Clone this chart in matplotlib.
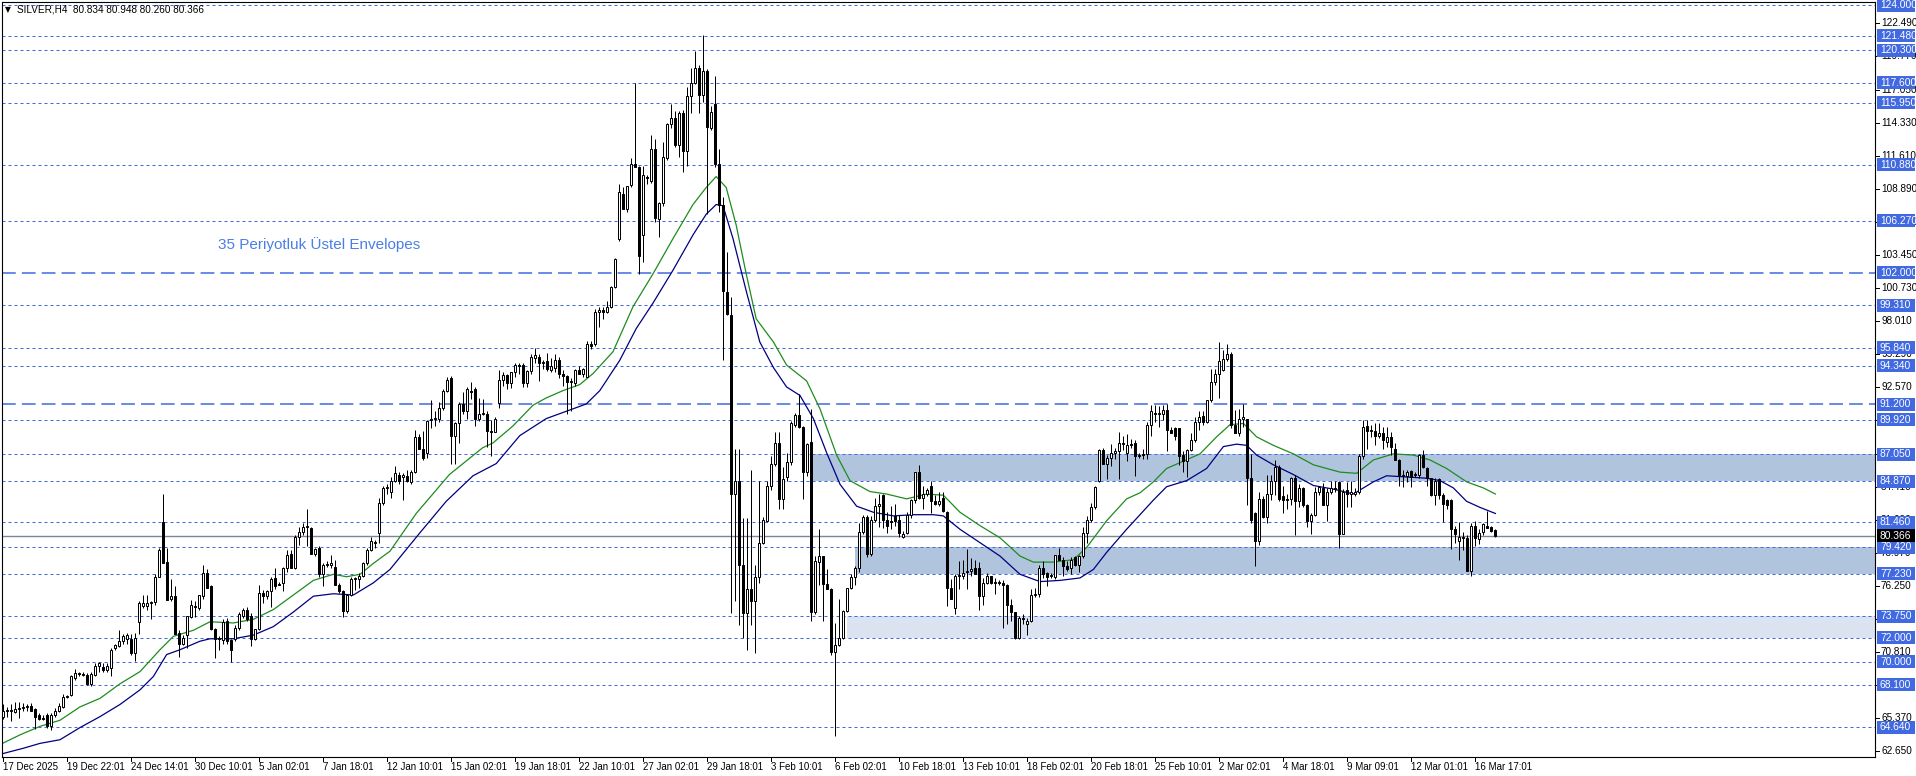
import numpy as np
import matplotlib.pyplot as plt
import matplotlib.transforms as mtransforms
from matplotlib.patches import Rectangle

W, H = 1916, 776

# ---- SILVER H4 candles, left to right (open, high, low, close) ----
opens = [65.5, 66.0, 66.0, 65.9, 66.1, 66.2, 66.3, 66.4, 66.1, 65.6, 65.4, 65.6, 64.7, 65.6, 66.0, 66.3, 67.1, 67.3, 68.7, 69.1,
         69.0, 68.9, 68.2, 68.9, 69.7, 69.6, 69.3, 69.5, 71.1, 71.3, 71.7, 71.9, 71.9, 70.7, 73.3, 74.6, 74.6, 74.8, 74.9, 77.0,
         81.5, 78.2, 75.2, 75.4, 72.4, 71.5, 72.2, 73.7, 74.6, 74.4, 75.4, 77.3, 76.2, 72.7, 71.9, 71.8, 73.4, 71.8, 71.9, 72.8,
         73.8, 74.3, 73.8, 71.9, 72.7, 75.7, 75.4, 75.8, 76.9, 76.4, 76.5, 77.7, 78.9, 77.7, 80.3, 80.7, 81.1, 81.0, 78.9, 79.4,
         77.2, 78.0, 78.0, 77.8, 76.3, 75.8, 74.2, 75.5, 76.8, 76.8, 77.1, 78.1, 79.2, 79.8, 80.6, 83.1, 84.3, 84.0, 84.9, 85.4,
         85.2, 85.3, 84.8, 85.6, 88.5, 87.5, 87.2, 89.9, 90.0, 90.0, 90.9, 92.3, 93.3, 88.6, 89.6, 91.2, 90.6, 92.3, 92.4, 90.0,
         90.4, 90.4, 89.0, 88.9, 91.3, 93.2, 93.6, 92.9, 93.8, 94.4, 94.4, 92.9, 93.9, 95.0, 95.1, 94.6, 94.7, 94.0, 94.2, 94.8,
         93.7, 93.5, 93.0, 92.9, 94.0, 93.7, 93.4, 96.1, 96.1, 98.8, 98.9, 98.8, 99.2, 100.8, 104.8, 108.5, 107.2, 109.2, 110.9, 110.7,
         105.1, 109.9, 109.5, 112.2, 106.4, 107.7, 111.4, 114.2, 114.7, 112.5, 115.1, 112.0, 116.5, 117.6, 118.8, 116.6, 118.6, 113.9, 115.9, 110.9,
         107.6, 100.4, 98.5, 83.8, 84.9, 78.0, 74.0, 76.0, 75.0, 77.0, 79.8, 81.6, 84.5, 86.3, 88.0, 83.4, 85.2, 86.4, 89.5, 90.3,
         89.3, 85.6, 88.1, 74.1, 78.2, 78.7, 76.4, 76.0, 70.8, 71.4, 72.0, 74.2, 76.1, 77.0, 77.7, 80.7, 81.9, 78.9, 81.7, 82.8,
         83.7, 81.7, 81.6, 82.0, 81.7, 80.3, 80.6, 82.1, 83.3, 85.6, 83.5, 83.8, 84.5, 83.2, 83.0, 83.5, 82.3, 76.1, 74.4, 77.1,
         77.1, 77.4, 77.5, 77.7, 77.7, 75.4, 76.5, 77.1, 76.6, 76.6, 76.5, 76.3, 74.7, 74.1, 72.0, 73.6, 73.1, 73.4, 75.5, 75.6,
         77.7, 77.3, 77.1, 77.0, 78.8, 78.4, 77.9, 77.7, 78.6, 78.0, 78.7, 80.6, 81.7, 82.7, 84.9, 87.4, 86.3, 86.8, 87.2, 87.3,
         88.0, 87.2, 87.9, 88.0, 87.0, 87.1, 87.1, 89.5, 90.5, 90.4, 90.4, 90.7, 89.1, 89.2, 89.2, 87.0, 86.5, 87.4, 88.2, 89.7,
         90.2, 89.7, 91.5, 93.0, 93.7, 94.0, 94.9, 95.3, 89.5, 88.8, 90.0, 90.0, 85.1, 82.2, 79.9, 83.4, 81.9, 83.8, 84.9, 86.0,
         83.6, 83.4, 83.4, 85.1, 83.2, 84.3, 82.9, 81.6, 82.1, 84.0, 84.3, 82.9, 84.0, 84.3, 84.8, 80.5, 84.1, 83.8, 83.8, 84.0,
         86.9, 89.4, 89.0, 89.0, 88.6, 88.8, 88.1, 88.5, 87.5, 86.6, 85.4, 85.3, 85.7, 85.4, 85.4, 87.0, 85.9, 85.1, 83.7, 85.0,
         83.7, 83.3, 83.3, 80.9, 79.9, 80.3, 80.2, 77.5, 81.2, 80.1, 80.7, 81.2, 81.1, 80.834]
highs = [66.5, 66.3, 66.5, 66.7, 66.7, 66.6, 66.5, 66.6, 66.2, 65.8, 65.6, 65.8, 65.8, 66.2, 66.6, 67.4, 67.3, 68.9, 69.4, 69.2,
         69.2, 69.1, 69.2, 69.9, 70.0, 69.9, 69.9, 71.1, 71.5, 72.6, 72.3, 72.4, 72.3, 72.4, 75.0, 75.5, 75.5, 75.0, 77.2, 79.4,
         83.8, 79.4, 76.8, 76.2, 72.6, 72.2, 73.8, 75.1, 75.0, 75.5, 78.0, 77.6, 76.3, 72.8, 72.1, 73.5, 73.6, 71.9, 73.0, 74.1,
         74.4, 74.5, 74.0, 72.7, 76.3, 75.9, 75.9, 77.0, 77.7, 76.6, 77.8, 79.2, 79.2, 80.4, 81.1, 81.4, 82.6, 81.1, 79.4, 79.5,
         78.1, 78.3, 78.8, 78.4, 76.5, 75.9, 75.6, 77.0, 77.0, 77.3, 78.2, 79.4, 80.3, 80.0, 83.5, 84.5, 84.6, 85.2, 86.1, 85.6,
         85.5, 85.8, 85.8, 89.1, 88.7, 89.0, 89.9, 91.5, 90.6, 91.4, 92.4, 93.4, 93.5, 89.7, 91.4, 92.2, 92.6, 93.0, 92.6, 91.7,
         91.6, 90.6, 89.9, 90.1, 94.0, 93.8, 93.7, 93.8, 94.6, 94.6, 94.6, 94.0, 95.3, 95.8, 95.3, 94.8, 95.4, 95.0, 95.3, 95.1,
         94.0, 93.6, 93.3, 94.1, 94.3, 94.2, 96.4, 96.4, 99.0, 99.2, 99.2, 99.7, 100.9, 103.2, 109.3, 109.0, 109.1, 111.4, 117.6, 110.8,
         110.8, 110.0, 113.3, 113.0, 107.8, 112.7, 114.3, 115.9, 115.3, 115.3, 115.4, 117.3, 118.8, 120.2, 119.1, 121.5, 118.7, 115.7, 118.2, 112.2,
         108.2, 103.7, 100.0, 87.5, 87.5, 81.8, 81.8, 85.8, 78.0, 84.9, 81.9, 84.9, 86.9, 88.9, 88.9, 86.0, 87.2, 89.8, 90.5, 92.0,
         89.4, 88.0, 90.8, 78.7, 80.9, 78.7, 77.6, 76.1, 73.2, 75.2, 74.3, 76.1, 77.2, 77.9, 81.4, 82.1, 82.1, 82.0, 83.5, 83.8,
         83.8, 82.3, 82.8, 83.0, 82.1, 80.8, 82.3, 83.4, 85.6, 86.2, 84.5, 84.3, 84.9, 83.7, 84.0, 84.0, 82.4, 76.8, 77.2, 78.3,
         78.4, 79.3, 78.5, 78.4, 78.2, 76.9, 77.3, 77.1, 76.9, 76.7, 76.7, 76.4, 75.2, 74.1, 73.8, 73.9, 73.6, 76.0, 76.1, 78.0,
         78.3, 77.4, 77.3, 78.8, 79.4, 78.6, 78.3, 78.6, 78.7, 78.8, 81.1, 82.0, 83.1, 84.5, 87.5, 87.6, 87.0, 87.9, 87.6, 88.9,
         88.6, 88.7, 88.3, 88.2, 87.2, 87.5, 89.7, 91.1, 91.1, 91.0, 91.1, 91.2, 89.3, 89.3, 89.2, 87.3, 87.5, 88.8, 90.1, 90.6,
         90.6, 91.5, 94.1, 94.1, 96.3, 95.6, 96.1, 95.5, 90.7, 90.8, 91.2, 90.0, 87.1, 82.3, 84.0, 83.6, 85.4, 85.4, 86.6, 86.2,
         84.5, 83.8, 85.2, 85.4, 84.6, 84.4, 83.0, 82.2, 84.4, 84.5, 84.7, 84.3, 84.9, 84.9, 84.9, 84.2, 84.8, 84.9, 84.3, 87.1,
         89.9, 89.9, 89.5, 89.6, 89.6, 89.3, 89.3, 88.9, 88.0, 86.7, 85.8, 85.8, 85.8, 85.6, 87.1, 87.4, 86.0, 85.1, 85.1, 85.1,
         83.9, 83.4, 83.4, 81.2, 81.5, 80.7, 80.4, 81.4, 81.6, 80.9, 81.4, 82.4, 81.2, 80.948]
lows = [65.3, 65.5, 65.1, 65.8, 65.4, 66.0, 66.0, 66.0, 64.5, 65.2, 65.2, 64.6, 64.4, 65.5, 65.9, 66.2, 67.0, 67.2, 68.5, 68.8,
        68.8, 68.1, 68.0, 68.8, 69.2, 69.2, 69.2, 68.8, 71.0, 71.2, 71.5, 71.5, 70.6, 70.1, 72.3, 74.4, 74.3, 73.5, 74.7, 77.0,
        78.1, 75.1, 75.0, 72.3, 70.4, 71.4, 71.1, 73.6, 73.7, 74.3, 75.2, 76.1, 72.6, 70.3, 71.0, 71.5, 71.5, 70.0, 71.7, 72.6,
        73.6, 73.4, 71.3, 71.8, 72.6, 74.8, 75.2, 74.5, 76.0, 76.3, 75.8, 77.4, 77.7, 77.6, 79.6, 80.4, 79.5, 78.9, 78.7, 77.0,
        76.2, 77.8, 77.7, 76.3, 75.7, 73.7, 74.0, 75.4, 75.9, 76.1, 77.0, 78.0, 79.1, 79.4, 79.8, 82.9, 83.8, 83.5, 84.8, 84.6,
        83.3, 84.8, 84.6, 85.5, 87.5, 86.6, 86.8, 89.2, 89.4, 89.7, 90.7, 92.2, 86.3, 86.3, 88.0, 90.4, 90.0, 91.6, 89.4, 89.8,
        90.3, 87.7, 86.9, 88.9, 90.9, 92.7, 92.4, 92.5, 93.4, 93.7, 92.6, 92.6, 93.7, 94.6, 93.1, 94.1, 93.9, 93.8, 93.8, 93.3,
        92.7, 90.4, 90.6, 92.7, 93.7, 93.4, 93.4, 95.7, 96.0, 97.5, 98.2, 98.7, 99.1, 100.7, 104.6, 107.2, 107.0, 109.0, 110.7, 101.9,
        102.9, 109.3, 109.4, 106.2, 104.9, 107.5, 111.3, 113.9, 112.3, 111.5, 110.3, 110.8, 115.1, 117.5, 115.1, 116.0, 106.8, 113.7, 110.7, 107.0,
        94.8, 98.5, 74.0, 75.0, 73.0, 72.0, 71.0, 73.0, 70.7, 76.5, 79.7, 81.5, 84.1, 86.1, 82.6, 82.6, 84.9, 86.2, 89.3, 89.2,
        83.4, 85.3, 73.4, 73.9, 76.3, 73.4, 76.0, 70.6, 63.9, 71.3, 71.9, 74.1, 76.0, 76.3, 77.4, 80.5, 78.6, 78.7, 81.5, 81.1,
        81.0, 80.6, 80.9, 81.2, 80.3, 80.2, 80.5, 81.8, 83.1, 83.4, 82.6, 83.6, 82.2, 82.9, 82.8, 82.3, 74.6, 75.2, 73.9, 76.0,
        76.8, 76.0, 77.1, 77.2, 74.3, 74.7, 76.4, 76.4, 75.6, 76.3, 72.8, 73.1, 73.4, 71.9, 71.9, 73.1, 72.2, 73.3, 75.3, 75.3,
        76.9, 76.2, 76.9, 76.8, 78.4, 77.1, 77.5, 77.2, 77.9, 77.4, 78.5, 79.8, 81.5, 82.6, 84.8, 86.3, 85.0, 86.1, 86.7, 85.0,
        87.4, 86.5, 87.6, 85.3, 86.8, 86.7, 86.7, 88.6, 89.7, 89.3, 89.9, 87.3, 88.8, 88.2, 86.2, 85.6, 85.2, 87.3, 88.1, 89.1,
        89.5, 89.6, 91.4, 92.8, 91.7, 93.9, 94.7, 89.2, 88.8, 88.6, 89.3, 82.9, 81.4, 77.9, 79.6, 81.8, 81.4, 83.3, 83.7, 83.2,
        82.2, 82.6, 82.9, 80.4, 82.7, 82.7, 81.1, 80.5, 82.0, 83.7, 82.9, 81.6, 83.8, 84.0, 79.4, 80.5, 82.7, 82.7, 83.6, 83.8,
        86.7, 87.5, 88.5, 87.8, 88.4, 87.5, 87.7, 87.0, 86.6, 84.5, 84.4, 84.8, 84.4, 85.2, 85.1, 85.9, 84.5, 83.6, 82.9, 83.4,
        81.5, 82.6, 79.3, 79.8, 78.4, 79.2, 77.5, 77.1, 79.5, 79.7, 80.4, 81.0, 80.7, 80.260]
closes = [66.0, 66.0, 66.0, 66.1, 66.2, 66.3, 66.4, 66.0, 65.5, 65.3, 65.3, 64.7, 65.6, 66.0, 66.4, 67.1, 67.1, 68.8, 69.1, 69.0,
          68.9, 68.2, 69.0, 69.7, 69.9, 69.3, 69.7, 71.0, 71.4, 71.7, 72.1, 72.2, 70.7, 72.0, 74.8, 74.8, 74.8, 74.9, 77.0, 79.2,
          78.1, 75.1, 75.4, 72.3, 71.5, 72.0, 73.8, 74.7, 74.5, 75.5, 77.3, 76.1, 72.7, 71.9, 71.9, 73.3, 71.7, 71.0, 72.8, 73.9,
          74.3, 73.5, 71.9, 72.7, 75.7, 75.4, 75.8, 76.8, 76.2, 76.3, 77.7, 78.8, 77.7, 80.3, 80.7, 81.1, 81.1, 78.9, 79.3, 77.2,
          78.0, 78.0, 78.1, 76.3, 75.8, 74.2, 75.5, 76.8, 76.9, 77.1, 78.1, 79.2, 79.9, 79.8, 83.1, 84.3, 84.4, 84.9, 85.5, 84.9,
          85.4, 84.9, 85.6, 88.5, 87.5, 86.8, 89.8, 90.0, 90.0, 90.9, 92.3, 93.2, 88.6, 89.6, 91.2, 90.6, 92.4, 92.2, 90.0, 90.4,
          90.4, 89.0, 88.9, 90.0, 93.2, 93.6, 92.9, 93.8, 94.4, 94.3, 92.9, 93.9, 95.1, 95.2, 94.6, 94.6, 94.1, 94.3, 94.8, 93.7,
          93.5, 93.0, 93.1, 94.0, 93.7, 94.1, 96.1, 96.0, 98.8, 98.9, 98.8, 99.2, 100.8, 103.1, 108.6, 107.2, 109.1, 110.9, 110.7, 103.4,
          110.0, 109.8, 112.2, 106.5, 107.7, 111.5, 114.2, 114.7, 112.5, 115.1, 112.0, 116.5, 117.6, 118.8, 116.6, 118.6, 114.0, 115.2, 110.9, 107.6,
          100.5, 98.6, 83.8, 84.9, 78.0, 74.0, 76.0, 75.0, 77.0, 79.8, 81.7, 84.5, 86.3, 88.0, 83.4, 85.0, 86.4, 89.6, 90.3, 89.3,
          85.6, 87.9, 74.1, 78.3, 78.7, 76.4, 76.0, 70.8, 71.4, 72.0, 74.2, 76.1, 77.0, 77.7, 80.7, 81.9, 78.9, 81.7, 82.8, 83.0,
          81.7, 81.2, 81.5, 81.6, 80.6, 80.5, 82.1, 83.3, 85.6, 83.5, 83.8, 84.1, 83.2, 83.0, 83.2, 82.4, 76.1, 75.2, 77.1, 77.1,
          77.3, 77.5, 77.6, 77.2, 75.4, 76.5, 77.1, 76.5, 76.5, 76.5, 76.3, 74.7, 74.1, 72.0, 73.6, 73.5, 73.4, 75.5, 75.6, 77.7,
          77.2, 77.0, 77.1, 78.8, 78.4, 77.9, 77.6, 78.4, 78.0, 78.7, 80.6, 81.7, 82.7, 84.4, 87.4, 86.3, 86.8, 87.2, 87.3, 88.0,
          87.9, 87.8, 87.8, 86.9, 86.9, 87.0, 89.5, 90.6, 90.4, 90.5, 90.7, 89.1, 88.8, 88.6, 86.9, 86.5, 87.4, 88.2, 89.7, 90.1,
          89.7, 91.5, 93.0, 93.7, 94.7, 94.9, 95.3, 89.5, 88.8, 90.0, 90.1, 85.1, 81.7, 79.9, 83.4, 81.9, 83.8, 84.9, 86.0, 83.4,
          83.3, 83.3, 85.1, 83.2, 84.3, 82.9, 81.6, 82.1, 84.0, 84.4, 82.9, 84.0, 84.3, 84.2, 80.5, 84.0, 83.8, 84.0, 84.0, 86.9,
          89.3, 89.0, 89.0, 88.6, 88.8, 88.2, 88.5, 87.7, 86.6, 85.4, 85.3, 85.6, 85.2, 85.4, 87.0, 86.0, 85.1, 83.7, 84.9, 83.7,
          83.0, 82.9, 80.9, 80.5, 80.3, 80.2, 77.5, 81.2, 80.2, 80.6, 81.3, 81.0, 80.8, 80.366]

# ---- 35 period exponential envelopes (read at sample bars) ----
env_up_x = [-0.75, 4.25, 9.25, 14.25, 19.25, 24.25, 29.25, 34.25, 39.25, 42.6, 47.6, 51.75, 57.6, 62.6, 67.6, 72.6, 77.6,
            82.6, 85.9, 89.25, 92.6, 96.75, 103.3, 111.6, 119.9, 122.5, 127.5, 132.5, 135.8, 140.0, 144.2, 147.5, 152.5,
            157.5, 162.5, 167.5, 172.5, 175.8, 178.3, 180.8, 183.3, 185.8, 188.3, 192.6, 195.9, 200.9, 204.25, 208.4,
            211.75, 216.75, 220.9, 225.9, 230.9, 235.1, 239.25, 244.25, 249.25, 254.25, 257.6, 262.6, 267.6, 270.9, 275.9,
            280.9, 284.25, 287.6, 290.9, 295.1, 299.25, 303.4, 306.75, 310.1, 313.4, 317.6, 322.6, 327.6, 334.25, 338.4,
            342.6, 347.6, 352.6, 356.75, 360.9, 365.9, 370.1, 373.1]
env_up_y = [63.2, 64.0, 64.7, 65.2, 66.3, 67.0, 68.2, 69.2, 71.0, 72.1, 72.6, 73.3, 73.2, 73.5, 74.3, 75.5, 76.7,
            77.2, 77.0, 77.2, 78.1, 79.1, 82.2, 85.4, 87.6, 88.0, 89.4, 91.1, 91.7, 92.3, 92.8, 93.7, 95.5,
            99.2, 101.9, 104.8, 107.6, 109.0, 109.9, 109.0, 105.9, 101.9, 98.2, 96.3, 94.4, 93.1, 90.8, 87.0,
            84.9, 84.0, 83.8, 83.4, 83.8, 83.7, 82.3, 81.2, 80.2, 78.7, 78.2, 78.2, 78.4, 79.4, 81.6,
            83.4, 83.9, 84.8, 85.9, 86.5, 87.1, 88.5, 89.5, 89.6, 88.5, 87.8, 87.1, 86.2, 85.6, 85.5,
            86.6, 87.1, 87.0, 86.6, 85.9, 84.8, 84.3, 83.8]
env_lo_x = [-0.75, 5.1, 9.25, 14.25, 19.25, 24.25, 29.25, 34.25, 37.6, 40.9, 44.25, 49.25, 51.75, 57.6, 62.6, 67.6, 72.6,
            77.6, 82.6, 87.6, 92.6, 96.75, 104.2, 110.8, 117.5, 123.3, 129.2, 135.8, 140.8, 145.8, 149.2, 154.2, 158.3,
            162.5, 167.5, 172.5, 175.8, 178.3, 180.0, 182.5, 185.8, 189.2, 192.6, 195.9, 199.25, 202.6, 205.9, 209.25,
            213.4, 217.6, 222.6, 227.6, 232.6, 235.1, 239.25, 244.25, 249.25, 254.25, 259.25, 264.25, 269.25, 272.6,
            275.9, 280.9, 284.25, 287.6, 290.9, 295.9, 300.9, 305.1, 308.4, 310.9, 313.4, 317.6, 322.6, 327.6, 332.6,
            337.6, 342.6, 345.9, 350.9, 355.9, 359.25, 362.6, 365.9, 369.25, 373.1]
env_lo_y = [62.4, 62.9, 63.3, 63.6, 64.6, 65.5, 66.5, 67.7, 68.8, 70.6, 71.0, 71.7, 71.9, 71.9, 72.2, 72.9, 74.1,
            75.4, 75.6, 75.5, 76.5, 77.6, 80.6, 83.2, 85.3, 86.3, 88.6, 90.0, 90.6, 91.2, 92.3, 94.8, 97.4,
            99.5, 102.2, 105.1, 106.8, 107.6, 107.5, 104.8, 100.5, 96.3, 94.2, 92.6, 91.9, 90.0, 87.2, 84.6,
            82.8, 82.3, 82.0, 82.1, 82.1, 82.0, 80.9, 79.8, 78.7, 77.2, 76.6, 76.7, 76.9, 77.6,
            79.0, 80.9, 82.1, 83.3, 84.4, 84.9, 85.9, 87.7, 87.9, 87.8, 87.0, 86.2, 85.4, 84.5, 84.2,
            83.8, 84.8, 85.3, 85.2, 85.1, 84.9, 84.3, 83.2, 82.7, 82.2]

# ---- drawn levels and zones ----
levels_short = [124.0, 121.48, 120.3, 117.6, 115.95, 110.88, 106.27, 99.31, 95.84, 94.34, 89.92, 87.05,
                84.87, 81.46, 79.42, 77.23, 73.75, 72.0, 70.0, 68.1, 64.64]
levels_long = [102.0, 91.2]
last_price = 80.366
zone_lo = [84.87, 77.23, 72.0]
zone_hi = [87.05, 79.42, 73.75]
zone_from = [201.75, 213.0, 211.0]
zone_col = ['#b0c4de', '#b0c4de', '#dce3f0']

price_ticks = [62.65, 65.37, 68.09, 70.81, 73.53, 76.25, 78.97, 81.69, 84.41, 87.13, 89.85, 92.57,
               95.29, 98.01, 100.73, 103.45, 106.17, 108.89, 111.61, 114.33, 117.05, 119.77, 122.49]
date_labels = ['17 Dec 2025', '19 Dec 22:01', '24 Dec 14:01', '30 Dec 10:01', '5 Jan 02:01', '7 Jan 18:01',
               '12 Jan 10:01', '15 Jan 02:01', '19 Jan 18:01', '22 Jan 10:01', '27 Jan 02:01', '29 Jan 18:01',
               '3 Feb 10:01', '6 Feb 02:01', '10 Feb 18:01', '13 Feb 10:01', '18 Feb 02:01', '20 Feb 18:01',
               '25 Feb 10:01', '2 Mar 02:01', '4 Mar 18:01', '9 Mar 09:01', '12 Mar 01:01', '16 Mar 17:01']
bars_per_label = 16

BLUE = '#4169e1'
FONT = ['Liberation Sans', 'DejaVu Sans']
plt.rcParams['font.family'] = FONT

fig = plt.figure(figsize=(W / 100, H / 100), dpi=100)
fig.patch.set_facecolor('white')
L, R, T, B = 2, 1875, 1.5, 757
ax = fig.add_axes([L / W, 1 - B / H, (R - L) / W, (B - T) / H])
ax.set_xlim(-0.25, 468.0)
ax.set_ylim(62.18, 124.29)
ax.set_xticks([])
ax.set_yticks([])
for s in ax.spines.values():
    s.set_linewidth(0.8)
    s.set_color('black')

px = 0.72  # one pixel in points

# zones
for lo, hi, x0, col in zip(zone_lo, zone_hi, zone_from, zone_col):
    ax.add_patch(Rectangle((x0, lo), 468.0 - x0, hi - lo, facecolor=col, edgecolor='none', zorder=0))

# levels
for lv in levels_short:
    ax.axhline(lv, color=BLUE, lw=px, dashes=(3, 3), zorder=1)
for lv in levels_long:
    ax.axhline(lv, color=BLUE, lw=1.1, dashes=(9, 4), zorder=1)
ax.axhline(last_price, color='#7b8794', lw=1.0, zorder=1)

# envelopes
ax.plot(env_up_x, env_up_y, color='#1e8c1e', lw=0.9, zorder=2)
ax.plot(env_lo_x, env_lo_y, color='#000080', lw=0.9, zorder=2)

# candles
o = np.array(opens)
h = np.array(highs)
l = np.array(lows)
c = np.array(closes)
idx = np.arange(len(c))
ax.vlines(idx, l, h, color='black', lw=px, zorder=3)
bull = c >= o
base = np.minimum(o, c)
size = np.maximum(np.abs(c - o), 0.06)
ax.bar(idx[bull], size[bull], bottom=base[bull], width=0.5, facecolor='white',
       edgecolor='black', linewidth=px, zorder=4)
ax.bar(idx[~bull], size[~bull], bottom=base[~bull], width=0.5, facecolor='black',
       edgecolor='black', linewidth=px, zorder=4)

ax.text(216 / (R - L), 104.35, '35 Periyotluk Üstel Envelopes',
        transform=mtransforms.blended_transform_factory(ax.transAxes, ax.transData),
        color='#4a7ee6', fontsize=11, va='center', ha='left')

# header
fig.text(5 / W, 1 - 10 / H, '\u25bc', fontsize=5.5, family='DejaVu Sans', va='center', ha='left')
fig.text(17 / W, 1 - 10 / H, 'SILVER,H4  80.834 80.948 80.260 80.366', fontsize=7.2, va='center', ha='left')

# right price scale
yb = mtransforms.blended_transform_factory(fig.transFigure, ax.transData)
for t in price_ticks:
    ax.plot([R / W, (R + 4) / W], [t, t], color='black', lw=px, transform=yb, clip_on=False)
    ax.text((R + 6) / W, t, f'{t:.3f}', transform=yb, fontsize=7.2, va='center', ha='left', clip_on=False)
half = 6.5 / 12.165
for lv in levels_short + levels_long + [last_price]:
    fc = 'black' if lv == last_price else BLUE
    ax.add_patch(Rectangle(((R + 2) / W, lv - half), 38 / W, 2 * half, transform=yb, facecolor=fc,
                           edgecolor='none', clip_on=False, zorder=10))
    ax.text((R + 5) / W, lv, f'{lv:.3f}', transform=yb, fontsize=7.4, color='white', va='center',
            ha='left', clip_on=False, zorder=11)

# time scale
xb = mtransforms.blended_transform_factory(ax.transData, fig.transFigure)
for k, lab in enumerate(date_labels):
    xi = k * bars_per_label
    ax.plot([xi, xi], [1 - B / H, 1 - (B + 4) / H], color='black', lw=px, transform=xb, clip_on=False)
    ax.text(xi, 1 - 767 / H, lab, transform=xb, fontsize=7, va='center', ha='left', clip_on=False)

fig.savefig('out.png', dpi=100)
